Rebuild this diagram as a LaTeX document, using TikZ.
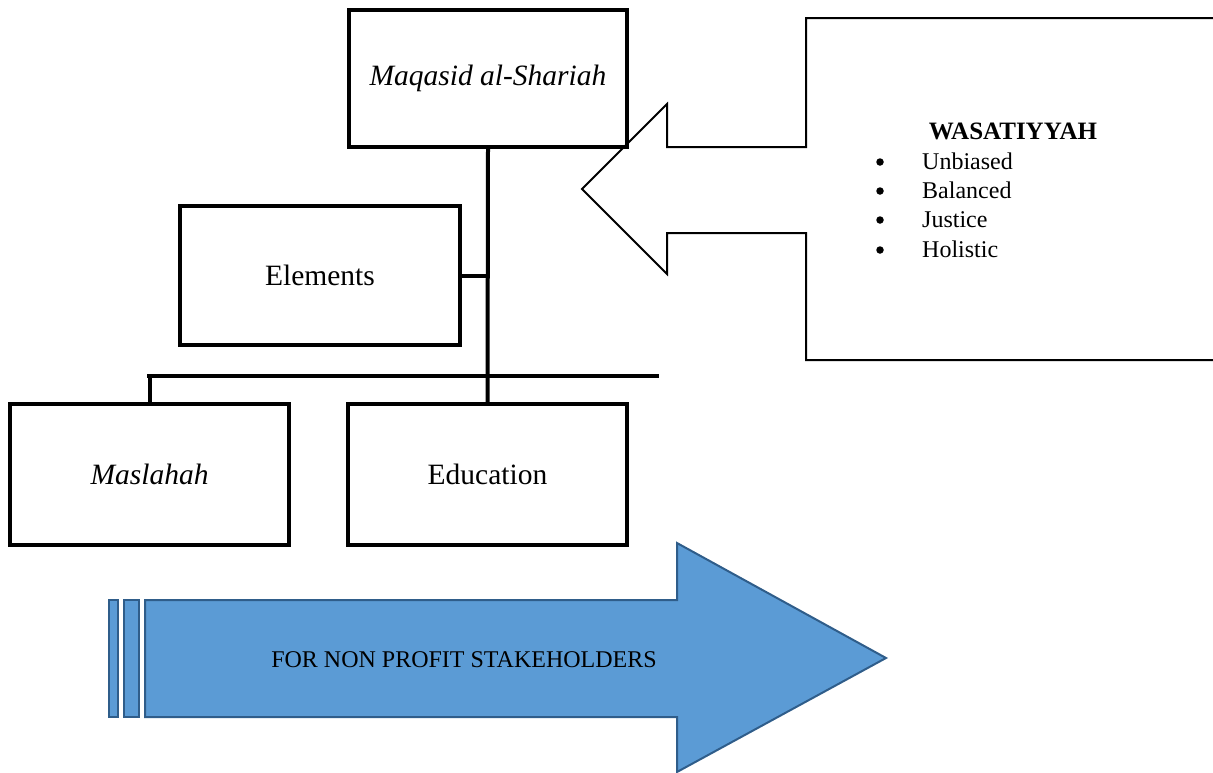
\documentclass[tikz,border=0pt]{standalone}
\usepackage{fontspec}
\setmainfont{Liberation Serif}
\definecolor{arrowfill}{HTML}{5B9BD5}
\definecolor{arrowline}{HTML}{2F5D8A}
\begin{document}
\begin{tikzpicture}[x=1pt,y=-1pt,
  box/.style={draw=black,line width=4pt,minimum width=278pt,minimum height=137pt,inner sep=0pt,font=\fontsize{29.5}{34}\selectfont},
  conn/.style={line width=4pt},
  callout/.style={draw=black,line width=2pt,fill=white,line join=miter},
  bul/.style={anchor=base west,inner sep=0pt,font=\fontsize{24}{28}\selectfont},
  dot/.style={circle,fill=black,inner sep=0pt,minimum size=7.5pt},
  blue/.style={fill=arrowfill,draw=arrowline,line width=2pt,line join=miter}]
\useasboundingbox (0,0) rectangle (1213,772);
% callout arrow
\draw[callout] (1216,18) -- (806,18) -- (806,147) -- (667,147) -- (667,104) -- (582,189) -- (667,274) -- (667,233) -- (806,233) -- (806,360) -- (1216,360);
% boxes
\node[box] (maq) at (488,78.5) {\itshape Maqasid al-Shariah};
\node[box,minimum width=280pt,minimum height=139pt] (el) at (320,275.5) {Elements};
\node[box,minimum width=279pt,minimum height=141pt] (mas) at (149.5,474.5) {\itshape Maslahah};
\node[box,minimum width=279pt,minimum height=141pt] (edu) at (487.5,474.5) {Education};
% connectors
\coordinate (barL) at (149,376);
\coordinate (barR) at (659,376);
\draw[conn] (maq.south) -- (edu.north);
\draw[conn] (el.east) -- (el.east -| maq.south);
\draw[conn] ([xshift=-2pt]barL) -- (barR);
\draw[conn] (mas.north) -- (mas.north |- barL);
% callout text
\node[anchor=base,inner sep=0pt,font=\fontsize{25}{28}\selectfont\bfseries] (wtitle) at (1013,139) {WASATIYYAH};
\node[dot] (b1) at (880,162) {};
\node[bul] (t1) at (922,169) {Unbiased};
\node[dot] (b2) at (880,191) {};
\node[bul] (t2) at (922,198) {Balanced};
\node[dot] (b3) at (880,220) {};
\node[bul] (t3) at (922,227) {Justice};
\node[dot] (b4) at (880,250) {};
\node[bul] (t4) at (922,257) {Holistic};
% blue arrow
\draw[blue] (109,600) rectangle (118,717);
\draw[blue] (124,600) rectangle (139,717);
\draw[blue] (145,600) -- (677,600) -- (677,543) -- (886,658) -- (677,772) -- (677,717) -- (145,717) -- cycle;
\node[inner sep=0pt,font=\fontsize{24}{28}\selectfont] (fornp) at (464,660) {FOR NON PROFIT STAKEHOLDERS};
\end{tikzpicture}
\end{document}
